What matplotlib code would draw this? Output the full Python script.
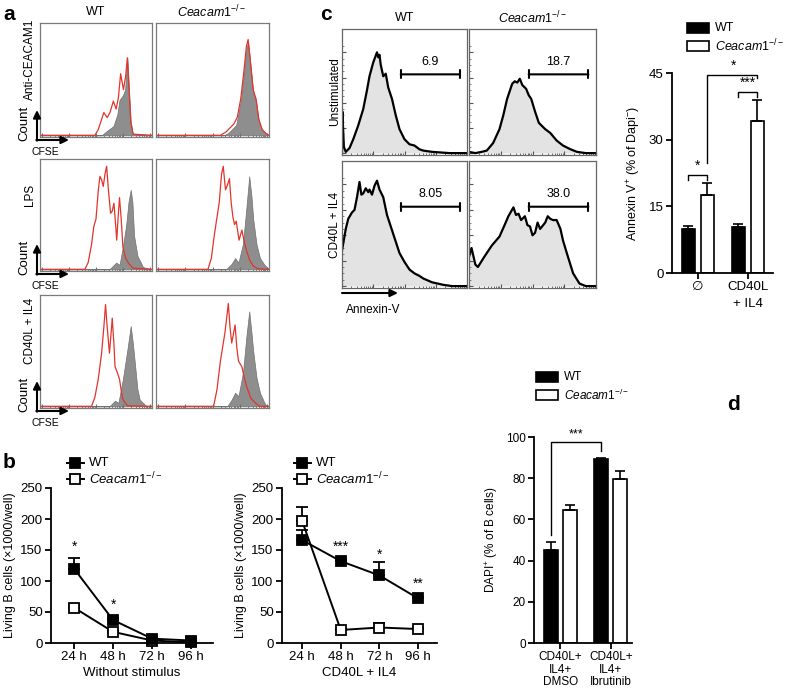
import numpy as np
import matplotlib.pyplot as plt
from matplotlib.patches import Rectangle

plt.rcParams['font.family'] = ['Liberation Sans', 'DejaVu Sans']
plt.rcParams['mathtext.fontset'] = 'custom'
plt.rcParams['mathtext.rm'] = 'Liberation Sans'
plt.rcParams['mathtext.it'] = 'Liberation Sans:italic'
plt.rcParams['mathtext.bf'] = 'Liberation Sans:bold'

KO = r'$\mathit{Ceacam1}^{-/-}$'

# ---- panel a: CFSE histograms (x, height) ----
A_ROWS = ['Anti-CEACAM1', 'LPS', 'CD40L + IL4']
A_WT_RED = [
    [(0, 0), (0.49, 0), (0.52, 0.05), (0.55, 0.14), (0.57, 0.20), (0.60, 0.155), (0.625, 0.20), (0.655, 0.30),
     (0.68, 0.23), (0.70, 0.33), (0.72, 0.54), (0.745, 0.40), (0.765, 0.52), (0.78, 0.68), (0.795, 0.40),
     (0.81, 0.12), (0.83, 0.01), (1, 0)],
    [(0, 0), (0.40, 0), (0.43, 0.06), (0.46, 0.22), (0.48, 0.38), (0.50, 0.45), (0.52, 0.70), (0.535, 0.83),
     (0.55, 0.80), (0.565, 0.74), (0.58, 0.85), (0.595, 0.92), (0.61, 0.72), (0.63, 0.50), (0.645, 0.52),
     (0.66, 0.59), (0.675, 0.40), (0.685, 0.26), (0.70, 0.50), (0.71, 0.64), (0.725, 0.45), (0.74, 0.20),
     (0.765, 0.10), (0.79, 0.055), (0.83, 0.01), (1, 0)],
    [(0, 0), (0.46, 0), (0.49, 0.08), (0.52, 0.24), (0.55, 0.47), (0.57, 0.70), (0.585, 0.90), (0.60, 0.70),
     (0.62, 0.47), (0.635, 0.65), (0.645, 0.78), (0.66, 0.55), (0.67, 0.35), (0.69, 0.30), (0.71, 0.24),
     (0.725, 0.14), (0.74, 0.06), (0.78, 0.005), (1, 0)],
]
A_WT_GREY = [
    [(0, 0), (0.55, 0), (0.60, 0.04), (0.655, 0.08), (0.69, 0.18), (0.71, 0.31), (0.74, 0.35), (0.76, 0.40),
     (0.78, 0.68), (0.795, 0.40), (0.81, 0.12), (0.83, 0.01), (1, 0)],
    [(0, 0), (0.62, 0), (0.66, 0.04), (0.68, 0.06), (0.71, 0.04), (0.74, 0.20), (0.77, 0.40), (0.79, 0.60),
     (0.81, 0.71), (0.825, 0.60), (0.84, 0.30), (0.87, 0.12), (0.92, 0.02), (1, 0)],
    [(0, 0), (0.62, 0), (0.67, 0.05), (0.70, 0.03), (0.74, 0.24), (0.78, 0.50), (0.81, 0.71), (0.83, 0.55),
     (0.85, 0.35), (0.87, 0.15), (0.89, 0.06), (0.95, 0.0), (1, 0)],
]
A_KO_RED = [
    [(0, 0), (0.57, 0), (0.62, 0.03), (0.67, 0.08), (0.69, 0.10), (0.72, 0.16), (0.75, 0.32), (0.78, 0.58),
     (0.80, 0.78), (0.815, 0.84), (0.83, 0.70), (0.86, 0.40), (0.885, 0.32), (0.91, 0.14), (0.94, 0.05),
     (0.98, 0.01), (1, 0)],
    [(0, 0), (0.46, 0), (0.49, 0.10), (0.51, 0.26), (0.53, 0.40), (0.56, 0.60), (0.58, 0.85), (0.595, 0.92),
     (0.615, 0.71), (0.635, 0.76), (0.65, 0.81), (0.665, 0.60), (0.68, 0.47), (0.695, 0.40), (0.71, 0.43),
     (0.735, 0.26), (0.76, 0.35), (0.78, 0.25), (0.80, 0.17), (0.83, 0.08), (0.86, 0.03), (0.90, 0.005), (1, 0)],
    [(0, 0), (0.51, 0), (0.54, 0.15), (0.57, 0.40), (0.61, 0.65), (0.64, 0.91), (0.655, 0.70), (0.67, 0.56),
     (0.70, 0.72), (0.715, 0.52), (0.73, 0.40), (0.76, 0.35), (0.78, 0.26), (0.80, 0.18), (0.84, 0.07),
     (0.89, 0.02), (0.92, 0.0), (1, 0)],
]
A_KO_GREY = [
    [(0, 0), (0.60, 0), (0.64, 0.02), (0.68, 0.06), (0.71, 0.09), (0.75, 0.30), (0.78, 0.56), (0.80, 0.76),
     (0.815, 0.82), (0.83, 0.68), (0.86, 0.38), (0.885, 0.30), (0.91, 0.12), (0.94, 0.04), (0.98, 0.01), (1, 0)],
    [(0, 0), (0.62, 0), (0.67, 0.05), (0.70, 0.10), (0.73, 0.06), (0.77, 0.23), (0.80, 0.55), (0.825, 0.83),
     (0.845, 0.65), (0.86, 0.45), (0.89, 0.22), (0.92, 0.10), (0.96, 0.04), (0.98, 0.02), (1, 0)],
    [(0, 0), (0.63, 0), (0.67, 0.06), (0.70, 0.12), (0.73, 0.09), (0.77, 0.30), (0.80, 0.62), (0.825, 0.84),
     (0.845, 0.65), (0.86, 0.49), (0.89, 0.25), (0.92, 0.12), (0.96, 0.03), (0.98, 0.0), (1, 0)],
]

# ---- panel c: Annexin-V histograms ----
C_ROWS = ['Unstimulated', 'CD40L + IL4']
C_WT_HIST = [
    [(0, 0.01), (0.003, 0.33), (0.015, 0.05), (0.03, 0.01), (0.06, 0.04), (0.09, 0.11), (0.13, 0.22),
     (0.17, 0.35), (0.20, 0.50), (0.22, 0.61), (0.25, 0.72), (0.28, 0.80), (0.29, 0.76), (0.30, 0.78),
     (0.31, 0.70), (0.33, 0.61), (0.35, 0.63), (0.37, 0.52), (0.40, 0.43), (0.43, 0.30), (0.46, 0.19),
     (0.50, 0.11), (0.54, 0.07), (0.58, 0.06), (0.62, 0.03), (0.65, 0.02), (0.72, 0.01), (0.86, 0.0), (1, 0)],
    [(0, 0.28), (0.03, 0.45), (0.05, 0.53), (0.08, 0.58), (0.10, 0.60), (0.12, 0.70), (0.14, 0.82),
     (0.155, 0.72), (0.17, 0.73), (0.19, 0.77), (0.21, 0.74), (0.22, 0.76), (0.24, 0.72), (0.26, 0.79),
     (0.28, 0.83), (0.30, 0.76), (0.33, 0.70), (0.36, 0.56), (0.40, 0.44), (0.43, 0.35), (0.46, 0.26),
     (0.50, 0.19), (0.54, 0.13), (0.58, 0.10), (0.62, 0.08), (0.65, 0.06), (0.72, 0.03), (0.81, 0.01),
     (0.88, 0.0), (1, 0)],
]
C_KO_HIST = [
    [(0, 0.01), (0.05, 0.0), (0.10, 0.01), (0.14, 0.02), (0.19, 0.08), (0.24, 0.19), (0.27, 0.30),
     (0.30, 0.43), (0.34, 0.55), (0.36, 0.57), (0.38, 0.56), (0.40, 0.59), (0.42, 0.54), (0.45, 0.51),
     (0.47, 0.46), (0.49, 0.43), (0.52, 0.33), (0.55, 0.24), (0.60, 0.19), (0.64, 0.16), (0.69, 0.10),
     (0.74, 0.06), (0.80, 0.03), (0.85, 0.01), (0.92, 0.0), (1, 0)],
    [(0, 0.23), (0.02, 0.30), (0.05, 0.17), (0.07, 0.15), (0.12, 0.23), (0.18, 0.32), (0.24, 0.39),
     (0.28, 0.48), (0.31, 0.55), (0.35, 0.62), (0.37, 0.56), (0.39, 0.57), (0.41, 0.52), (0.44, 0.55),
     (0.46, 0.48), (0.48, 0.47), (0.50, 0.40), (0.52, 0.42), (0.54, 0.50), (0.56, 0.45), (0.60, 0.50),
     (0.62, 0.55), (0.64, 0.53), (0.66, 0.52), (0.69, 0.52), (0.72, 0.45), (0.74, 0.36), (0.77, 0.26),
     (0.82, 0.10), (0.87, 0.02), (0.92, 0.0), (1, 0)],
]
C_WT_GATE = ['6.9', '8.05']
C_KO_GATE = ['18.7', '38.0']
GATE_LO, GATE_HI, GATE_H = 0.47, 0.94, 0.625

# ---- panel c bars ----
C_GROUPS = ['\u2205', 'CD40L\n+ IL4']
C_WT = [9.9, 10.3]
C_WT_ERR = [0.75, 0.8]
C_KO = [17.6, 34.1]
C_KO_ERR = [2.65, 4.9]

# ---- panel b ----
HOURS = ['24 h', '48 h', '72 h', '96 h']
B_NO_WT = [120, 37, 7, 4]
B_NO_WT_ERR = [17.6, 3, 2, 1]
B_NO_KO = [57, 18, 4, 1]
B_NO_KO_ERR = [5, 2, 1, 1]
B_NO_STARS = ['*', '*', '', '']
B_NO_STAR_Y = [155, 61, 0, 0]
B_CD_WT = [166, 132, 109, 72]
B_CD_WT_ERR = [17, 3, 22, 3]
B_CD_KO = [197, 21, 25, 22.5]
B_CD_KO_ERR = [23, 2, 8, 2]
B_CD_STARS = ['', '***', '*', '**']
B_CD_STAR_Y = [0, 155, 143, 95]

# ---- panel d ----
D_GROUPS = ['CD40L+\nIL4+\nDMSO', 'CD40L+\nIL4+\nIbrutinib']
D_WT = [45.1, 89.3]
D_WT_ERR = [4.1, 0.4]
D_KO = [64.6, 79.5]
D_KO_ERR = [2.4, 4.1]

W, H = 788, 699
fig = plt.figure(figsize=(W / 100, H / 100), dpi=100)


def box(x0, y0, x1, y1):
    return fig.add_axes([x0 / W, 1 - y1 / H, (x1 - x0) / W, (y1 - y0) / H])


def log_ticks(ax, lo, hi, spine_col):
    majors = np.linspace(lo, hi, 5)
    step = majors[1] - majors[0]
    minors = [m + step * np.log10(k) for m in majors[:-1] for k in range(2, 10)]
    ax.set_xticks(majors)
    ax.set_xticks(minors, minor=True)
    ax.tick_params(axis='x', which='both', direction='in', labelbottom=False, color=spine_col)
    ax.tick_params(axis='x', which='major', length=3, width=0.8)
    ax.tick_params(axis='x', which='minor', length=1.6, width=0.6)


# panel a boxes
a_cols = [(40, 152), (156, 269)]
a_rows = [(23, 137), (159, 271), (295, 408)]
for r, (y0, y1) in enumerate(a_rows):
    for c, (x0, x1) in enumerate(a_cols):
        ax = box(x0, y0, x1, y1)
        grey = A_WT_GREY[r] if c == 0 else A_KO_GREY[r]
        red = A_WT_RED[r] if c == 0 else A_KO_RED[r]
        gx, gy = zip(*grey)
        ax.fill_between(gx, gy, color='#8e8e8e', lw=0.5, edgecolor='#707070')
        rx, ry = zip(*red)
        ax.plot(rx, ry, color='#e2342c', lw=0.9)
        ax.set_xlim(0, 1)
        ax.set_ylim(-0.015, 0.985)
        ax.set_yticks([])
        log_ticks(ax, 0.02, 0.98, '#707070')
        for s in ax.spines.values():
            s.set_color('#7a7a7a')
            s.set_linewidth(0.9)

# panel c histogram boxes
c_cols = [(342, 467), (469, 596)]
c_rows = [(29, 155), (161, 288)]
for r, (y0, y1) in enumerate(c_rows):
    for c, (x0, x1) in enumerate(c_cols):
        ax = box(x0, y0, x1, y1)
        hist = C_WT_HIST[r] if c == 0 else C_KO_HIST[r]
        hx, hy = zip(*hist)
        ax.fill_between(hx, hy, color='#e3e3e3', lw=0)
        ax.plot(hx, hy, color='black', lw=1.6, solid_joinstyle='round')
        ax.set_xlim(0, 1)
        ax.set_ylim(-0.015, 0.985)
        lab = C_WT_GATE[r] if c == 0 else C_KO_GATE[r]
        ax.annotate('', xy=(GATE_HI, GATE_H), xytext=(GATE_LO, GATE_H),
                    arrowprops=dict(arrowstyle='|-|,widthA=0.28,widthB=0.28', lw=1.5,
                                    color='black', shrinkA=0, shrinkB=0))
        ax.text((GATE_LO + GATE_HI) / 2, GATE_H + 0.05, lab, ha='center', va='bottom', fontsize=9)
        log_ticks(ax, 0.0, 1.0, '#555555')
        ax.set_yticks([0.0, 0.2, 0.4, 0.6, 0.8])
        ax.set_yticks(np.arange(0.05, 0.9, 0.05), minor=True)
        ax.tick_params(axis='y', which='both', direction='in', labelleft=False, color='#555555')
        ax.tick_params(axis='y', which='major', length=3, width=0.8)
        ax.tick_params(axis='y', which='minor', length=1.2, width=0.5)
        for s in ax.spines.values():
            s.set_color('#666666')
            s.set_linewidth(0.9)


def style_axes(ax, fs):
    for s in ['top', 'right']:
        ax.spines[s].set_visible(False)
    for s in ['left', 'bottom']:
        ax.spines[s].set_linewidth(1.3)
    ax.tick_params(direction='out', length=4, width=1.3, labelsize=fs, pad=2)


# panel b
b_specs = [
    ((51, 488, 213, 643), B_NO_WT, B_NO_WT_ERR, B_NO_KO, B_NO_KO_ERR, B_NO_STARS, B_NO_STAR_Y,
     'Without stimulus', (-0.59, 3.56)),
    ((282, 488, 437, 643), B_CD_WT, B_CD_WT_ERR, B_CD_KO, B_CD_KO_ERR, B_CD_STARS, B_CD_STAR_Y,
     'CD40L + IL4', (-0.52, 3.49)),
]
for rect, wt, wte, ko, koe, stars, sy, xl, xlim in b_specs:
    ax = box(*rect)
    x = np.arange(len(HOURS))
    ax.errorbar(x, ko, yerr=[np.zeros(4), koe], fmt='none', ecolor='black', elinewidth=1.3,
                capsize=4, capthick=1.3, zorder=2)
    ax.errorbar(x, wt, yerr=[np.zeros(4), wte], fmt='none', ecolor='black', elinewidth=1.3,
                capsize=4, capthick=1.3, zorder=2)
    ax.plot(x, ko, '-s', color='black', lw=1.4, ms=7, mfc='white', mec='black', mew=1.3, zorder=3,
            clip_on=False)
    ax.plot(x, wt, '-s', color='black', lw=1.4, ms=7, mfc='black', mec='black', mew=1.3, zorder=4,
            clip_on=False)
    for i, s in enumerate(stars):
        if s:
            ax.text(x[i], sy[i], s, ha='center', va='center', fontsize=10)
    ax.set_xlim(*xlim)
    ax.set_ylim(0, 250)
    ax.set_yticks([0, 50, 100, 150, 200, 250])
    ax.set_xticks(x)
    ax.set_xticklabels(HOURS)
    ax.set_xlabel(xl, fontsize=9.5, labelpad=3)
    ax.set_ylabel('Living B cells (\u00d71000/well)', fontsize=9, labelpad=3)
    style_axes(ax, 9.5)

# panel c bars
ax = box(672, 73, 773, 273)
x = np.arange(len(C_GROUPS))
off, bw = 0.19, 0.26
ax.bar(x - off, C_WT, bw, color='black', edgecolor='black', lw=1.2)
ax.bar(x + off, C_KO, bw, color='white', edgecolor='black', lw=1.2)
ax.errorbar(x - off, C_WT, yerr=[np.zeros(2), C_WT_ERR], fmt='none', ecolor='black', elinewidth=1.2,
            capsize=3.5, capthick=1.2)
ax.errorbar(x + off, C_KO, yerr=[np.zeros(2), C_KO_ERR], fmt='none', ecolor='black', elinewidth=1.2,
            capsize=3.5, capthick=1.2)
ax.plot([-off, -off, off, off], [20.9, 22.05, 22.05, 20.9], color='black', lw=1, clip_on=False)
ax.text(0, 22.6, '*', ha='center', va='bottom', fontsize=10)
ax.plot([1 - off, 1 - off, 1 + off, 1 + off], [39.7, 40.8, 40.8, 39.7], color='black', lw=1, clip_on=False)
ax.text(1, 41.2, '***', ha='center', va='bottom', fontsize=10)
ax.plot([off, off, 1 + off, 1 + off], [24.7, 44.55, 44.55, 43.9], color='black', lw=1, clip_on=False)
ax.text(0.72, 45.0, '*', ha='center', va='bottom', fontsize=10)
ax.set_xlim(-0.51, 1.5)
ax.set_ylim(0, 45)
ax.set_yticks([0, 15, 30, 45])
ax.set_xticks(x)
ax.set_xticklabels(C_GROUPS, linespacing=1.5)
ax.set_ylabel(r'Annexin V$^{+}$ (% of Dapi$^{-}$)', fontsize=9, labelpad=4)
style_axes(ax, 9.5)

# panel d bars
ax = box(534, 437, 632, 643)
x = np.arange(len(D_GROUPS))
off, bw = 0.19, 0.28
ax.bar(x - off, D_WT, bw, color='black', edgecolor='black', lw=1.2)
ax.bar(x + off, D_KO, bw, color='white', edgecolor='black', lw=1.2)
ax.errorbar(x - off, D_WT, yerr=[np.zeros(2), D_WT_ERR], fmt='none', ecolor='black', elinewidth=1.2,
            capsize=3.5, capthick=1.2)
ax.errorbar(x + off, D_KO, yerr=[np.zeros(2), D_KO_ERR], fmt='none', ecolor='black', elinewidth=1.2,
            capsize=3.5, capthick=1.2)
ax.plot([-off, -off, 1 - off, 1 - off], [52.4, 97.6, 97.6, 93], color='black', lw=1, clip_on=False)
ax.text(0.31, 98.5, '***', ha='center', va='bottom', fontsize=9)
ax.set_xlim(-0.52, 1.42)
ax.set_ylim(0, 100)
ax.set_yticks([0, 20, 40, 60, 80, 100])
ax.set_xticks(x)
ax.set_xticklabels(D_GROUPS, linespacing=1.05)
ax.set_ylabel(r'DAPI$^{+}$ (% of B cells)', fontsize=8.5, labelpad=4)
style_axes(ax, 8.5)

# overlay for labels, legends and axis arrows (pixel coordinates)
ov = fig.add_axes([0, 0, 1, 1], zorder=10)
ov.set_xlim(0, W)
ov.set_ylim(H, 0)
ov.axis('off')

for t, xy in [('a', (3, 14)), ('b', (3, 463)), ('c', (320, 14)), ('d', (727, 404))]:
    ov.text(*xy, t, fontsize=15, fontweight='bold', ha='left', va='center')

ov.text(96, 12, 'WT', ha='center', va='center', fontsize=9)
ov.text(212, 12, KO, ha='center', va='center', fontsize=9)
for (y0, y1), lab in zip(a_rows, A_ROWS):
    ov.text(30, y0 + (y1 - y0) * 0.32, lab, rotation=90, ha='center', va='center', fontsize=8.5)
    yb = y1 + 3
    ov.annotate('', xy=(37, yb - 30), xytext=(37, yb + 0.7),
                arrowprops=dict(arrowstyle='-|>,head_length=0.45,head_width=0.22', lw=1.5, color='black',
                                shrinkA=0, shrinkB=0))
    ov.annotate('', xy=(69, yb), xytext=(36.3, yb),
                arrowprops=dict(arrowstyle='-|>,head_length=0.45,head_width=0.22', lw=1.5, color='black',
                                shrinkA=0, shrinkB=0))
    ov.text(24, yb - 17, 'Count', rotation=90, ha='center', va='center', fontsize=9.5)
    ov.text(32, yb + 12, 'CFSE', ha='left', va='center', fontsize=7.5)

ov.text(405, 18, 'WT', ha='center', va='center', fontsize=9)
ov.text(533, 18, KO, ha='center', va='center', fontsize=9)
for (y0, y1), lab in zip(c_rows, C_ROWS):
    ov.text(335, (y0 + y1) / 2, lab, rotation=90, ha='center', va='center', fontsize=8.5)
ov.annotate('', xy=(398, 293), xytext=(342, 293),
            arrowprops=dict(arrowstyle='-|>,head_length=0.45,head_width=0.22', lw=1.5, color='black',
                            shrinkA=0, shrinkB=0))
ov.text(346, 310, 'Annexin-V', ha='left', va='center', fontsize=8.5)

# legends of panel b
for lx in [67, 294]:
    for ly, face, lab in [(463, 'black', 'WT'), (479, 'white', KO)]:
        ov.plot([lx, lx + 17], [ly, ly], color='black', lw=1.4)
        ov.plot([lx + 8.5], [ly], 's', ms=7, mfc=face, mec='black', mew=1.3)
        ov.text(lx + 22, ly, lab, ha='left', va='center', fontsize=9.5)

# legends of bar charts
for lx, ly0, fs in [(687, 28, 9), (536, 377, 8.5)]:
    for dy, face, lab in [(0, 'black', 'WT'), (18, 'white', KO)]:
        ov.add_patch(Rectangle((lx, ly0 + dy - 5), 22, 10, facecolor=face, edgecolor='black', lw=1.2))
        ov.text(lx + 28, ly0 + dy, lab, ha='left', va='center', fontsize=fs)

fig.savefig('out.png', dpi=100)
